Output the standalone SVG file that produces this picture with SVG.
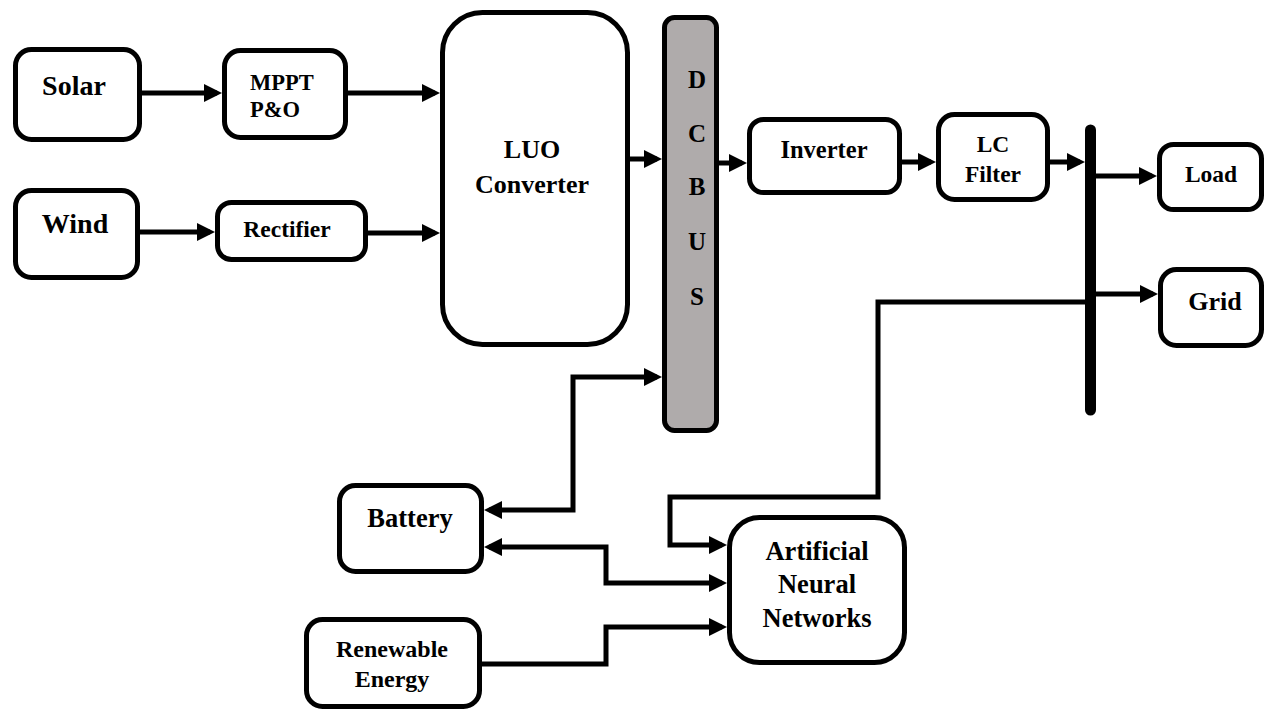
<svg xmlns="http://www.w3.org/2000/svg" width="1265" height="712" viewBox="0 0 1265 712">
  <defs>
    <style>
      .box { fill: #ffffff; stroke: #000000; stroke-width: 5; }
      .bus { fill: #afabab; stroke: #000000; stroke-width: 5; }
      .lbl { font-family: "Liberation Serif", "Times New Roman", serif; font-weight: bold; fill: #000000; }
      .conn { fill: none; stroke: #000000; stroke-width: 5; stroke-linejoin: miter; stroke-linecap: butt; }
      .arr { marker-end: url(#ah); }
      .both { marker-start: url(#ah); marker-end: url(#ah); }
    </style>
    <marker id="ah" viewBox="0 0 18 18" markerWidth="18" markerHeight="18" refX="13" refY="9" orient="auto-start-reverse" markerUnits="userSpaceOnUse">
      <path d="M0,0 L18,9 L0,18 z" fill="#000000"/>
    </marker>
  </defs>
  <rect width="1265" height="712" fill="#ffffff"/>

  <g id="connectors">
    <path class="conn arr" d="M140,93 H217"/>
    <path class="conn arr" d="M348,93 H435"/>
    <path class="conn arr" d="M140,232 H210"/>
    <path class="conn arr" d="M368,233 H435"/>
    <path class="conn arr" d="M630,159 H657"/>
    <path class="conn arr" d="M719,163 H742"/>
    <path class="conn arr" d="M902,162 H931"/>
    <path class="conn arr" d="M1050,162 H1080"/>
    <path class="conn arr" d="M1096,176 H1152"/>
    <path class="conn arr" d="M1096,294 H1153"/>
    <path class="conn arr" d="M1085,302 H878 V497 H670 V545 H722"/>
    <path class="conn both" d="M489,510 H573 V377 H657"/>
    <path class="conn both" d="M489,547 H606 V583 H722"/>
    <path class="conn arr" d="M482,664 H606 V627 H722"/>
  </g>

  <g id="solar">
    <rect class="box" x="15.5" y="49.5" width="124" height="90" rx="16"/>
    <text class="lbl" x="74" y="95" font-size="28" text-anchor="middle">Solar</text>
  </g>
  <g id="mppt">
    <rect class="box" x="224.5" y="50.5" width="121" height="87" rx="16"/>
    <text class="lbl" x="250" y="90" font-size="22.5">MPPT</text>
    <text class="lbl" x="250" y="117" font-size="22.5">P&amp;O</text>
  </g>
  <g id="wind">
    <rect class="box" x="15.5" y="190.5" width="122" height="87" rx="16"/>
    <text class="lbl" x="75" y="233" font-size="28" text-anchor="middle">Wind</text>
  </g>
  <g id="rectifier">
    <rect class="box" x="217.5" y="202.5" width="148" height="57" rx="14"/>
    <text class="lbl" x="287" y="237" font-size="23.5" text-anchor="middle">Rectifier</text>
  </g>
  <g id="luo-converter">
    <rect class="box" x="442.5" y="12.5" width="185" height="332" rx="40"/>
    <text class="lbl" x="532" y="158" font-size="26" text-anchor="middle">LUO</text>
    <text class="lbl" x="532" y="193" font-size="26" text-anchor="middle">Converter</text>
  </g>
  <g id="dc-bus">
    <rect class="bus" x="664.5" y="17.5" width="52" height="413" rx="10"/>
    <text class="lbl" x="697" y="88" font-size="25" text-anchor="middle">D</text>
    <text class="lbl" x="697" y="142" font-size="25" text-anchor="middle">C</text>
    <text class="lbl" x="697" y="195" font-size="25" text-anchor="middle">B</text>
    <text class="lbl" x="697" y="250" font-size="25" text-anchor="middle">U</text>
    <text class="lbl" x="697" y="305" font-size="25" text-anchor="middle">S</text>
  </g>
  <g id="inverter">
    <rect class="box" x="749.5" y="119.5" width="150" height="73" rx="14"/>
    <text class="lbl" x="824" y="158" font-size="24.5" text-anchor="middle">Inverter</text>
  </g>
  <g id="lc-filter">
    <rect class="box" x="938.5" y="114.5" width="109" height="85" rx="16"/>
    <text class="lbl" x="993" y="152" font-size="23.5" text-anchor="middle">LC</text>
    <text class="lbl" x="993" y="182" font-size="23.5" text-anchor="middle">Filter</text>
  </g>
  <g id="ac-bus">
    <line x1="1090.5" y1="130" x2="1090.5" y2="410" stroke="#000000" stroke-width="11" stroke-linecap="round"/>
  </g>
  <g id="load">
    <rect class="box" x="1159.5" y="144.5" width="102" height="65" rx="14"/>
    <text class="lbl" x="1211" y="182" font-size="23.5" text-anchor="middle">Load</text>
  </g>
  <g id="grid">
    <rect class="box" x="1160.5" y="269.5" width="101" height="76" rx="16"/>
    <text class="lbl" x="1215" y="310" font-size="26" text-anchor="middle">Grid</text>
  </g>
  <g id="battery">
    <rect class="box" x="339.5" y="485.5" width="142" height="86" rx="16"/>
    <text class="lbl" x="410" y="527" font-size="26.5" text-anchor="middle">Battery</text>
  </g>
  <g id="ann">
    <rect class="box" x="729.5" y="517.5" width="175" height="145" rx="30"/>
    <text class="lbl" x="817" y="560" font-size="26.5" text-anchor="middle">Artificial</text>
    <text class="lbl" x="817" y="593" font-size="26.5" text-anchor="middle">Neural</text>
    <text class="lbl" x="817" y="627" font-size="26.5" text-anchor="middle">Networks</text>
  </g>
  <g id="renewable-energy">
    <rect class="box" x="306.5" y="619.5" width="173" height="87" rx="16"/>
    <text class="lbl" x="392" y="657" font-size="24" text-anchor="middle">Renewable</text>
    <text class="lbl" x="392" y="687" font-size="24" text-anchor="middle">Energy</text>
  </g>
</svg>
